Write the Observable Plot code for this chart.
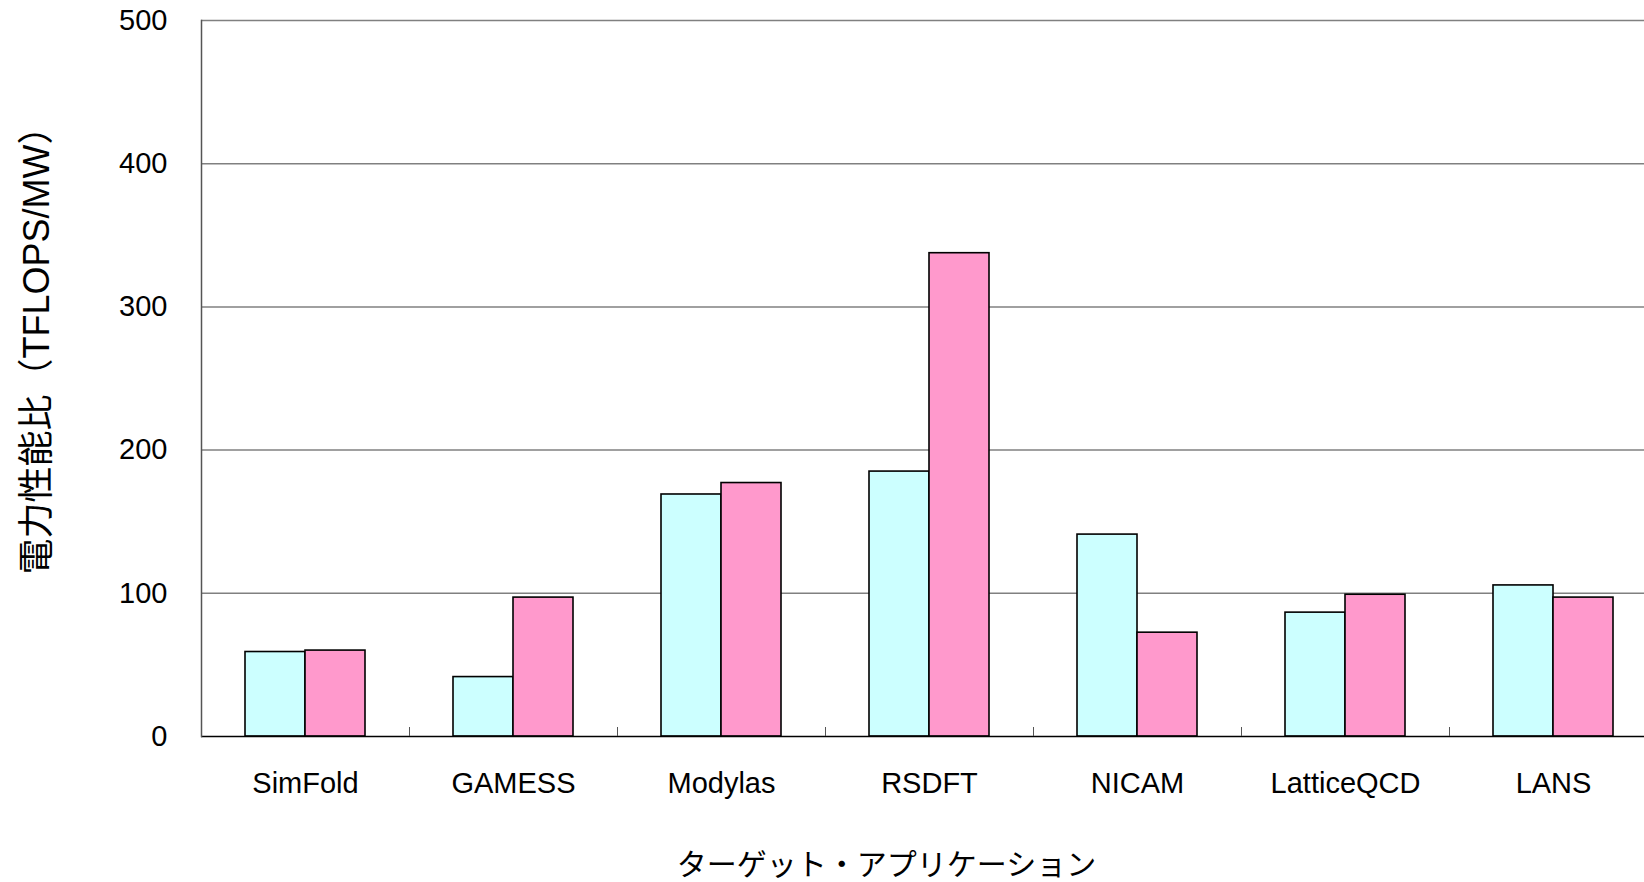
<!DOCTYPE html>
<html>
<head>
<meta charset="utf-8">
<script src="https://cdn.jsdelivr.net/npm/d3@7"></script>
<script src="https://cdn.jsdelivr.net/npm/@observablehq/plot@0.6"></script>
<style>
  html, body { margin: 0; padding: 0; background: #fff; overflow: hidden; }
  #chart { width: 1644px; height: 882px; overflow: hidden; }
  #chart svg { display: block; max-width: none !important; width: 1657px !important; height: 882px !important; }
</style>
</head>
<body>
<div id="chart"></div>
<script>
const categories = ["SimFold", "GAMESS", "Modylas", "RSDFT", "NICAM", "LatticeQCD", "LANS"];
const seriesNames = ["系列1", "系列2"];
const series1 = [59, 41.5, 169, 185, 141, 86.5, 105.5];
const series2 = [60, 97, 177, 337.5, 72.5, 99, 97];
const yTicks = [0, 100, 200, 300, 400, 500];
const yTitle = "電力性能比（TFLOPS/MW）";
const xTitle = "ターゲット・アプリケーション";

const rows = [];
categories.forEach((c, i) => {
  rows.push({cat: c, series: seriesNames[0], value: series1[i]});
  rows.push({cat: c, series: seriesNames[1], value: series2[i]});
});

const W = 1657, H = 882;
const mL = 201, mR = 0, mT = 20, mB = 146;
const bandW = (W - mL - mR) / categories.length;
const font = "'Liberation Sans', 'Noto Sans CJK JP', Arial, sans-serif";

const plot = Plot.plot({
  width: W,
  height: H,
  marginLeft: mL,
  marginRight: mR,
  marginTop: mT,
  marginBottom: mB,
  style: {fontFamily: font, color: "#000", background: "#fff"},
  fx: {domain: categories, padding: 0, label: null},
  x: {domain: seriesNames, paddingInner: 0, paddingOuter: 0.73, axis: null},
  y: {domain: [0, 500], axis: null},
  color: {domain: seriesNames, range: ["#ccffff", "#ff99cc"]},
  marks: [
    Plot.gridY(yTicks.filter(v => v > 0), {stroke: "#808080", strokeOpacity: 1, strokeWidth: 1.5}),
    Plot.barY(rows, {fx: "cat", x: "series", y: "value", fill: "series", stroke: "#000", strokeWidth: 1.6}),
    Plot.ruleY([0], {stroke: "#000", strokeWidth: 1.5}),
    Plot.frame({anchor: "left", stroke: "#555", strokeWidth: 1.5, facet: "super"}),
    Plot.axisY(yTicks, {tickSize: 0, tickPadding: 34, fontSize: 29, label: null}),
    Plot.axisFx({anchor: "bottom", tickSize: 0, tickPadding: 36, fontSize: 29, label: null}),
    Plot.axisFx({anchor: "bottom", tickSize: 9, dy: -9, dx: -bandW / 2, tickFormat: () => "", stroke: "#555", label: null}),
    Plot.text([xTitle], {frameAnchor: "bottom", dx: -43, dy: 129, fontSize: 30, lineAnchor: "middle", textAnchor: "middle", facet: "super"}),
    Plot.text([yTitle], {frameAnchor: "left", dx: -164, dy: -37, rotate: -90, fontSize: 36, lineAnchor: "middle", textAnchor: "middle", facet: "super"})
  ]
});
document.getElementById("chart").appendChild(plot);
</script>
</body>
</html>
